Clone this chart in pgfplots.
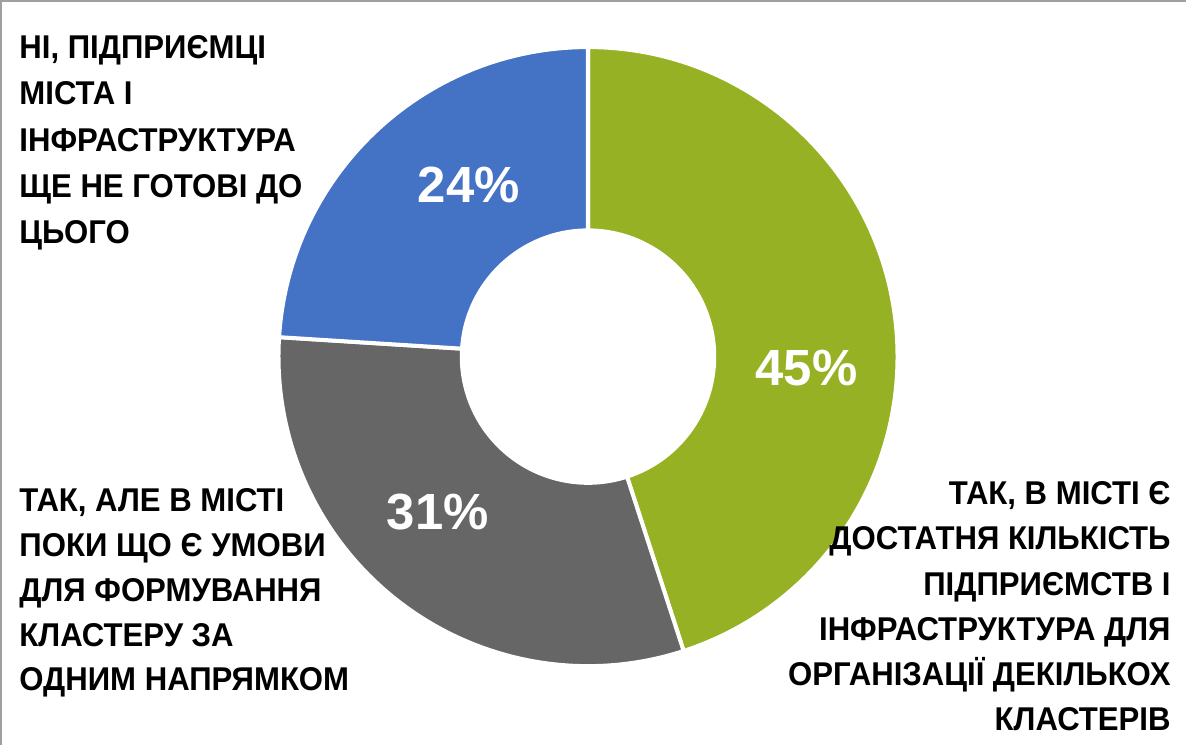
\documentclass[border=0pt]{standalone}
\usepackage{pgfplots}
\pgfplotsset{compat=1.18}
\usepackage{fontspec}
\setmainfont{Liberation Sans}
\newfontfamily\labfont[FakeStretch=0.945]{Liberation Sans}
\definecolor{cgreen}{RGB}{150,178,36}
\definecolor{cgray}{RGB}{102,102,102}
\definecolor{cblue}{RGB}{68,114,196}
\definecolor{cframe}{RGB}{160,160,160}
\tikzset{lab/.style={inner sep=0pt, font=\labfont\fontsize{16.5}{18}\bfseries\selectfont},
         pct/.style={anchor=base, inner sep=0pt, text=white, font=\fontsize{25.5}{30}\bfseries\selectfont}}
\begin{document}
\begin{tikzpicture}
\begin{axis}[hide axis, scale only axis, width=593.5bp, height=374bp,
  xmin=0, xmax=1187, ymin=0, ymax=748, y dir=reverse, clip=false]
% values: 45% (green), 31% (gray), 24% (blue), clockwise from top
\fill[cgreen, draw=white, line width=2bp] (axis cs:590,360) ++(90:154.5bp) arc[start angle=90, end angle=-72, radius=154.5bp] -- ++(-72:-91.5bp) arc[start angle=-72, end angle=90, radius=63bp] -- cycle;
\fill[cgray, draw=white, line width=2bp] (axis cs:590,360) ++(-72:154.5bp) arc[start angle=-72, end angle=-183.6, radius=154.5bp] -- ++(-183.6:-91.5bp) arc[start angle=-183.6, end angle=-72, radius=63bp] -- cycle;
\fill[cblue, draw=white, line width=2bp] (axis cs:590,360) ++(-183.6:154.5bp) arc[start angle=-183.6, end angle=-270, radius=154.5bp] -- ++(-270:-91.5bp) arc[start angle=-270, end angle=-183.6, radius=63bp] -- cycle;
% frame
\draw[cframe, line width=1bp] (axis cs:4,748) -- (axis cs:4,5) -- (axis cs:1187,5);
% percentages
\node[pct] at (axis cs:471,206) {24\%};
\node[pct] at (axis cs:808,389) {45\%};
\node[pct] at (axis cs:440,533) {31\%};
% top-left label
\node[lab, anchor=base west] at (axis cs:22,62) {НІ, ПІДПРИЄМЦІ};
\node[lab, anchor=base west] at (axis cs:22,108) {МІСТА І};
\node[lab, anchor=base west] at (axis cs:22,155) {ІНФРАСТРУКТУРА};
\node[lab, anchor=base west] at (axis cs:22,201) {ЩЕ НЕ ГОТОВІ ДО};
\node[lab, anchor=base west] at (axis cs:22,247) {ЦЬОГО};
% bottom-left label
\node[lab, anchor=base west] at (axis cs:22,515) {ТАК, АЛЕ В МІСТІ};
\node[lab, anchor=base west] at (axis cs:22,560) {ПОКИ ЩО Є УМОВИ};
\node[lab, anchor=base west] at (axis cs:22,604) {ДЛЯ ФОРМУВАННЯ};
\node[lab, anchor=base west] at (axis cs:22,649) {КЛАСТЕРУ ЗА};
\node[lab, anchor=base west] at (axis cs:22,693) {ОДНИМ НАПРЯМКОМ};
% right label
\node[lab, anchor=base east] at (axis cs:1172,508) {ТАК, В МІСТІ Є};
\node[lab, anchor=base east] at (axis cs:1172,553) {ДОСТАТНЯ КІЛЬКІСТЬ};
\node[lab, anchor=base east] at (axis cs:1172,598) {ПІДПРИЄМСТВ І};
\node[lab, anchor=base east] at (axis cs:1172,643) {ІНФРАСТРУКТУРА ДЛЯ};
\node[lab, anchor=base east] at (axis cs:1172,688) {ОРГАНІЗАЦІЇ ДЕКІЛЬКОХ};
\node[lab, anchor=base east] at (axis cs:1172,733) {КЛАСТЕРІВ};
\end{axis}
\end{tikzpicture}
\end{document}
